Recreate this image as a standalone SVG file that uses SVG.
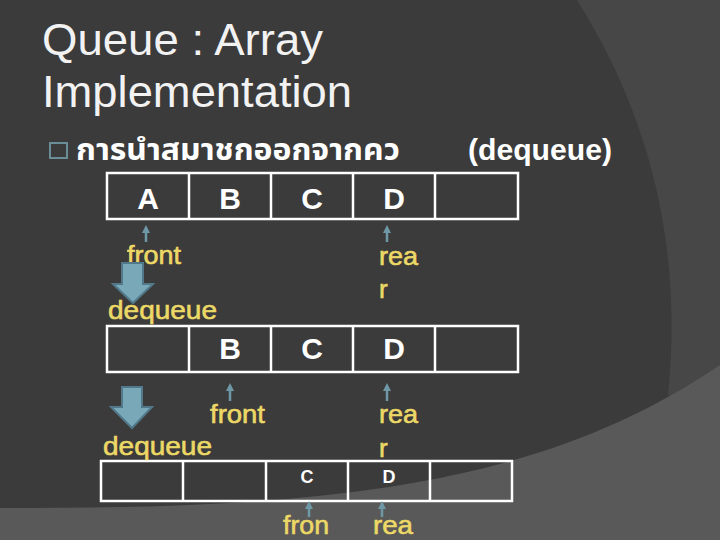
<svg xmlns="http://www.w3.org/2000/svg" width="720" height="540" viewBox="0 0 720 540">
  <defs>
    <marker id="ah" markerUnits="userSpaceOnUse" markerWidth="10" markerHeight="10" viewBox="0 0 10 10" refX="5" refY="5" orient="auto">
      <path d="M1,1 L9,5 L1,9 Z" fill="#6e98a6"/>
    </marker>
    <style>
      .title { font-family: "Liberation Sans", Arial, sans-serif; font-size: 45px; fill: #f2f2f2; }
      .head { font-family: "Liberation Sans", "Noto Sans", "DejaVu Sans", sans-serif; font-weight: bold; font-size: 30px; fill: #ffffff; }
      .cell { fill: none; stroke: #ffffff; stroke-width: 2.5; }
      .big { font-family: "Liberation Sans", Arial, sans-serif; font-weight: bold; font-size: 30px; fill: #ffffff; text-anchor: middle; }
      .small { font-family: "Liberation Sans", Arial, sans-serif; font-weight: bold; font-size: 18px; fill: #ffffff; text-anchor: middle; }
      .lbl { font-family: "Liberation Sans", Arial, sans-serif; font-size: 26px; fill: #ecd866; stroke: #ecd866; stroke-width: 0.6; }
      .conn { stroke: #6e98a6; stroke-width: 2.5; fill: none; marker-end: url(#ah); }
      .blk { fill: #79a9b9; stroke: #52798a; stroke-width: 2; stroke-linejoin: miter; }
    </style>
  </defs>

  <!-- background -->
  <rect x="0" y="0" width="720" height="540" fill="#3b3b3b"/>
  <path d="M577,0 Q690,180 668,395 L720,395 L720,0 Z" fill="#474747"/>
  <path d="M0,508 C350,510 550,480 720,365 L720,540 L0,540 Z" fill="#595959"/>

  <g id="title">
    <text class="title" x="42" y="55" textLength="281" lengthAdjust="spacingAndGlyphs">Queue : Array</text>
    <text class="title" x="42" y="107" textLength="310" lengthAdjust="spacingAndGlyphs">Implementation</text>
  </g>

  <g id="heading">
    <rect x="50" y="143" width="17" height="15" fill="none" stroke="#6a8d98" stroke-width="2"/>
    <text class="head" x="76" y="160" textLength="324" lengthAdjust="spacingAndGlyphs" style="font-family: 'Liberation Sans', 'Noto Sans Thai', 'Noto Sans', 'DejaVu Sans', sans-serif;">การนำสมาชกออกจากคว</text>
    <text class="head" x="468" y="160" textLength="144" lengthAdjust="spacingAndGlyphs">(dequeue)</text>
  </g>

  <g id="queue1">
    <rect class="cell" x="107" y="173" width="411" height="46"/>
    <line class="cell" x1="189" y1="173" x2="189" y2="219"/>
    <line class="cell" x1="271" y1="173" x2="271" y2="219"/>
    <line class="cell" x1="353" y1="173" x2="353" y2="219"/>
    <line class="cell" x1="435" y1="173" x2="435" y2="219"/>
    <text class="big" x="148" y="209">A</text>
    <text class="big" x="230" y="209">B</text>
    <text class="big" x="312" y="209">C</text>
    <text class="big" x="394" y="209">D</text>
  </g>

  <g id="queue2">
    <rect class="cell" x="107" y="326" width="411" height="46"/>
    <line class="cell" x1="189" y1="326" x2="189" y2="372"/>
    <line class="cell" x1="271" y1="326" x2="271" y2="372"/>
    <line class="cell" x1="353" y1="326" x2="353" y2="372"/>
    <line class="cell" x1="435" y1="326" x2="435" y2="372"/>
    <text class="big" x="230" y="359">B</text>
    <text class="big" x="312" y="359">C</text>
    <text class="big" x="394" y="359">D</text>
  </g>

  <g id="queue3">
    <rect class="cell" x="101" y="461" width="411" height="40"/>
    <line class="cell" x1="183" y1="461" x2="183" y2="501"/>
    <line class="cell" x1="266" y1="461" x2="266" y2="501"/>
    <line class="cell" x1="348" y1="461" x2="348" y2="501"/>
    <line class="cell" x1="430" y1="461" x2="430" y2="501"/>
    <text class="small" x="307" y="483">C</text>
    <text class="small" x="389" y="483">D</text>
  </g>

  <g id="labels1">
    <text class="lbl" x="127" y="264" textLength="54" lengthAdjust="spacingAndGlyphs">front</text>
    <text class="lbl" x="379" y="265" textLength="39" lengthAdjust="spacingAndGlyphs">rea</text>
    <text class="lbl" x="379" y="298">r</text>
  </g>

  <g id="dequeue1">
    <polygon class="blk" points="122,263 143,263 143,284 153,284 133,303 113,284 122,284"/>
    <text class="lbl" x="108" y="319" textLength="109" lengthAdjust="spacingAndGlyphs">dequeue</text>
  </g>

  <g id="labels2">
    <text class="lbl" x="210" y="423" textLength="55" lengthAdjust="spacingAndGlyphs">front</text>
    <text class="lbl" x="379" y="423" textLength="39" lengthAdjust="spacingAndGlyphs">rea</text>
    <text class="lbl" x="379" y="457">r</text>
  </g>

  <g id="dequeue2">
    <polygon class="blk" points="122,387 142,387 142,407 152,407 132,428 111,407 122,407"/>
    <text class="lbl" x="103" y="455" textLength="109" lengthAdjust="spacingAndGlyphs">dequeue</text>
  </g>

  <g id="labels3">
    <text class="lbl" x="283" y="534" textLength="46" lengthAdjust="spacingAndGlyphs">fron</text>
    <text class="lbl" x="373" y="534" textLength="40" lengthAdjust="spacingAndGlyphs">rea</text>
  </g>

  <g id="connectors">
    <line class="conn" x1="146" y1="242" x2="146" y2="229"/>
    <line class="conn" x1="387" y1="242" x2="387" y2="229"/>
    <line class="conn" x1="230" y1="401" x2="230" y2="387"/>
    <line class="conn" x1="387" y1="401" x2="387" y2="387"/>
    <line class="conn" x1="309" y1="517" x2="309" y2="505"/>
    <line class="conn" x1="382" y1="517" x2="382" y2="505"/>
  </g>
</svg>
